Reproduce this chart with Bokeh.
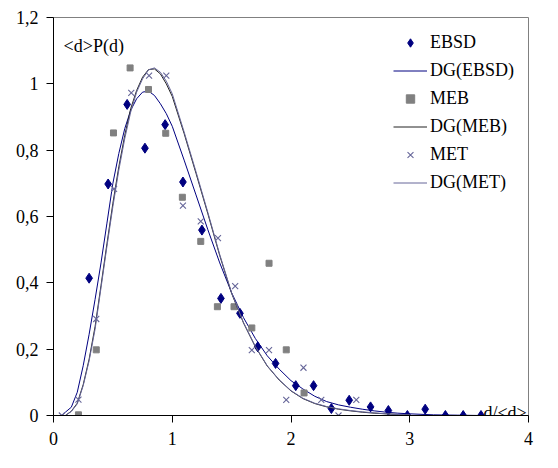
import numpy as np
from bokeh.plotting import figure
from bokeh.models import FixedTicker, Legend, LegendItem, Label
from bokeh.embed import file_html
from bokeh.resources import INLINE

# ---- data ----
ebsd_x = [0.30, 0.46, 0.62, 0.77, 0.94, 1.09, 1.25, 1.41, 1.57, 1.72, 1.87, 2.04, 2.19,
          2.34, 2.49, 2.67, 2.82, 2.98, 3.13, 3.30, 3.45, 3.60]
ebsd_y = [0.414, 0.698, 0.938, 0.806, 0.877, 0.704, 0.559, 0.353, 0.308, 0.207, 0.157, 0.090, 0.090,
          0.021, 0.046, 0.026, 0.015, 0.0, 0.019, 0.0, 0.0, 0.0]

meb_x = [0.21, 0.36, 0.505, 0.645, 0.80, 0.945, 1.085, 1.24, 1.38, 1.52, 1.67, 1.815, 1.96, 2.11]
meb_y = [0.002, 0.198, 0.852, 1.048, 0.983, 0.851, 0.658, 0.525, 0.328, 0.328, 0.264, 0.459, 0.198, 0.068]

met_x = [0.07, 0.21, 0.36, 0.51, 0.655, 0.805, 0.95, 1.09, 1.24, 1.385, 1.53, 1.67, 1.815,
         1.96, 2.105, 2.255, 2.40, 2.55]
met_y = [0.0, 0.048, 0.291, 0.683, 0.973, 1.025, 1.025, 0.633, 0.585, 0.535, 0.390, 0.197, 0.197,
         0.047, 0.144, 0.047, 0.0, 0.047]

dg_ebsd_x = [0.07, 0.1, 0.15, 0.2, 0.25, 0.3, 0.35, 0.4, 0.45, 0.5, 0.55, 0.6, 0.65, 0.7, 0.75, 0.8,
             0.85, 0.9, 0.95, 1.0, 1.1, 1.2, 1.3, 1.4, 1.5, 1.6, 1.7, 1.8, 1.9, 2.0, 2.1, 2.2, 2.3,
             2.4, 2.5, 2.6, 2.7, 2.8, 2.9, 3.0, 3.2, 3.4, 3.6, 3.8, 4.0]
dg_ebsd_y = [0.0, 0.01, 0.025, 0.07, 0.15, 0.245, 0.35, 0.46, 0.58, 0.70, 0.79, 0.865, 0.92, 0.955,
             0.975, 0.978, 0.965, 0.94, 0.91, 0.872, 0.77, 0.665, 0.56, 0.46, 0.37, 0.295, 0.232,
             0.18, 0.14, 0.105, 0.08, 0.058, 0.042, 0.032, 0.025, 0.019, 0.014, 0.01, 0.007, 0.005,
             0.002, 0.001, 0.0, 0.0, 0.0]

dg_meb_x = [0.1, 0.15, 0.2, 0.25, 0.3, 0.35, 0.4, 0.45, 0.5, 0.55, 0.6, 0.65, 0.7, 0.75, 0.8, 0.85,
            0.9, 0.95, 1.0, 1.1, 1.2, 1.3, 1.4, 1.5, 1.6, 1.7, 1.8, 1.9, 2.0, 2.1, 2.2, 2.3, 2.4,
            2.5, 2.6, 2.7, 2.8, 2.9, 3.0]
dg_meb_y = [0.0, 0.013, 0.037, 0.093, 0.17, 0.268, 0.392, 0.518, 0.64, 0.75, 0.845, 0.925, 0.98,
            1.02, 1.043, 1.045, 1.03, 1.0, 0.962, 0.85, 0.73, 0.608, 0.482, 0.368, 0.279, 0.207,
            0.149, 0.107, 0.074, 0.051, 0.036, 0.026, 0.019, 0.014, 0.01, 0.007, 0.005, 0.003, 0.002]

dg_met_x = [0.1, 0.15, 0.2, 0.25, 0.3, 0.35, 0.4, 0.45, 0.5, 0.55, 0.6, 0.65, 0.7, 0.75, 0.8, 0.85,
            0.9, 0.95, 1.0, 1.1, 1.2, 1.3, 1.4, 1.5, 1.6, 1.7, 1.8, 1.9, 2.0, 2.1, 2.2, 2.3, 2.4,
            2.5, 2.6, 2.7, 2.8, 2.9, 3.0]
dg_met_y = [0.0, 0.012, 0.035, 0.09, 0.165, 0.26, 0.385, 0.51, 0.63, 0.74, 0.835, 0.915, 0.975,
            1.015, 1.042, 1.048, 1.035, 1.008, 0.97, 0.855, 0.735, 0.612, 0.485, 0.37, 0.28, 0.208,
            0.15, 0.108, 0.075, 0.052, 0.037, 0.027, 0.02, 0.015, 0.011, 0.008, 0.005, 0.003, 0.002]

x_ticks = [0, 1, 2, 3, 4]
y_ticks = [0, 0.2, 0.4, 0.6, 0.8, 1.0, 1.2]
y_tick_labels = ["0", "0,2", "0,4", "0,6", "0,8", "1", "1,2"]

FONT = "Liberation Serif"
FS = "18px"
NAVY = "#000080"
GRAY = "#808080"
SLATE = "#666699"

p = figure(width=542, height=452, x_range=(0, 4), y_range=(0, 1.2),
           output_backend="svg", toolbar_location=None,
           min_border_left=53, min_border_right=14, min_border_top=17, min_border_bottom=37)
p.xgrid.visible = False
p.ygrid.visible = False
p.outline_line_color = GRAY
p.outline_line_width = 1
p.background_fill_color = "white"
p.border_fill_color = "white"

for ax in (p.xaxis[0], p.yaxis[0]):
    ax.axis_line_color = "black"
    ax.major_tick_line_color = "black"
    ax.major_tick_out = 7
    ax.major_tick_in = 0
    ax.minor_tick_out = 0
    ax.minor_tick_in = 0
    ax.major_label_text_font = FONT
    ax.major_label_text_font_size = FS
    ax.major_label_text_color = "black"

p.xaxis.ticker = FixedTicker(ticks=x_ticks)
p.yaxis.ticker = FixedTicker(ticks=y_ticks)
p.yaxis.major_label_overrides = {t: l for t, l in zip(y_ticks, y_tick_labels)}
p.xaxis.major_label_standoff = 9
p.yaxis.major_label_standoff = 8

r_ebsd = p.scatter(ebsd_x, ebsd_y, marker="diamond", size=10,
                   fill_color=NAVY, line_color=NAVY)
r_dg_ebsd = p.line(dg_ebsd_x, dg_ebsd_y, line_color=NAVY, line_width=1)
r_meb = p.scatter(meb_x, meb_y, marker="square", size=6, fill_color=GRAY, line_color=GRAY)
r_dg_meb = p.line(dg_meb_x, dg_meb_y, line_color="#222222", line_width=1)
r_met = p.scatter(met_x, met_y, marker="x", size=8.5, line_color=SLATE, line_width=1.1)
r_dg_met = p.line(dg_met_x, dg_met_y, line_color=SLATE, line_width=1)

legend = Legend(items=[
    LegendItem(label="EBSD", renderers=[r_ebsd]),
    LegendItem(label="DG(EBSD)", renderers=[r_dg_ebsd]),
    LegendItem(label="MEB", renderers=[r_meb]),
    LegendItem(label="DG(MEB)", renderers=[r_dg_meb]),
    LegendItem(label="MET", renderers=[r_met]),
    LegendItem(label="DG(MET)", renderers=[r_dg_met]),
], location=(340, 222))
legend.border_line_alpha = 0
legend.background_fill_alpha = 0
legend.label_text_font = FONT
legend.label_text_font_size = FS
legend.label_text_color = "black"
legend.glyph_width = 34
legend.glyph_height = 21
legend.label_height = 21
legend.spacing = 7
legend.padding = 0
legend.margin = 0
legend.label_standoff = 3
p.add_layout(legend)

p.add_layout(Label(x=0.085, y=1.113, text="<d>P(d)", text_font=FONT, text_font_size=FS,
                   text_baseline="alphabetic", text_color="black"))
p.add_layout(Label(x=3.985, y=0.008, text="d/<d>", text_font=FONT, text_font_size=FS,
                   text_align="right", text_baseline="alphabetic", text_color="black"))

open("out.html", "w").write(file_html(p, INLINE))
